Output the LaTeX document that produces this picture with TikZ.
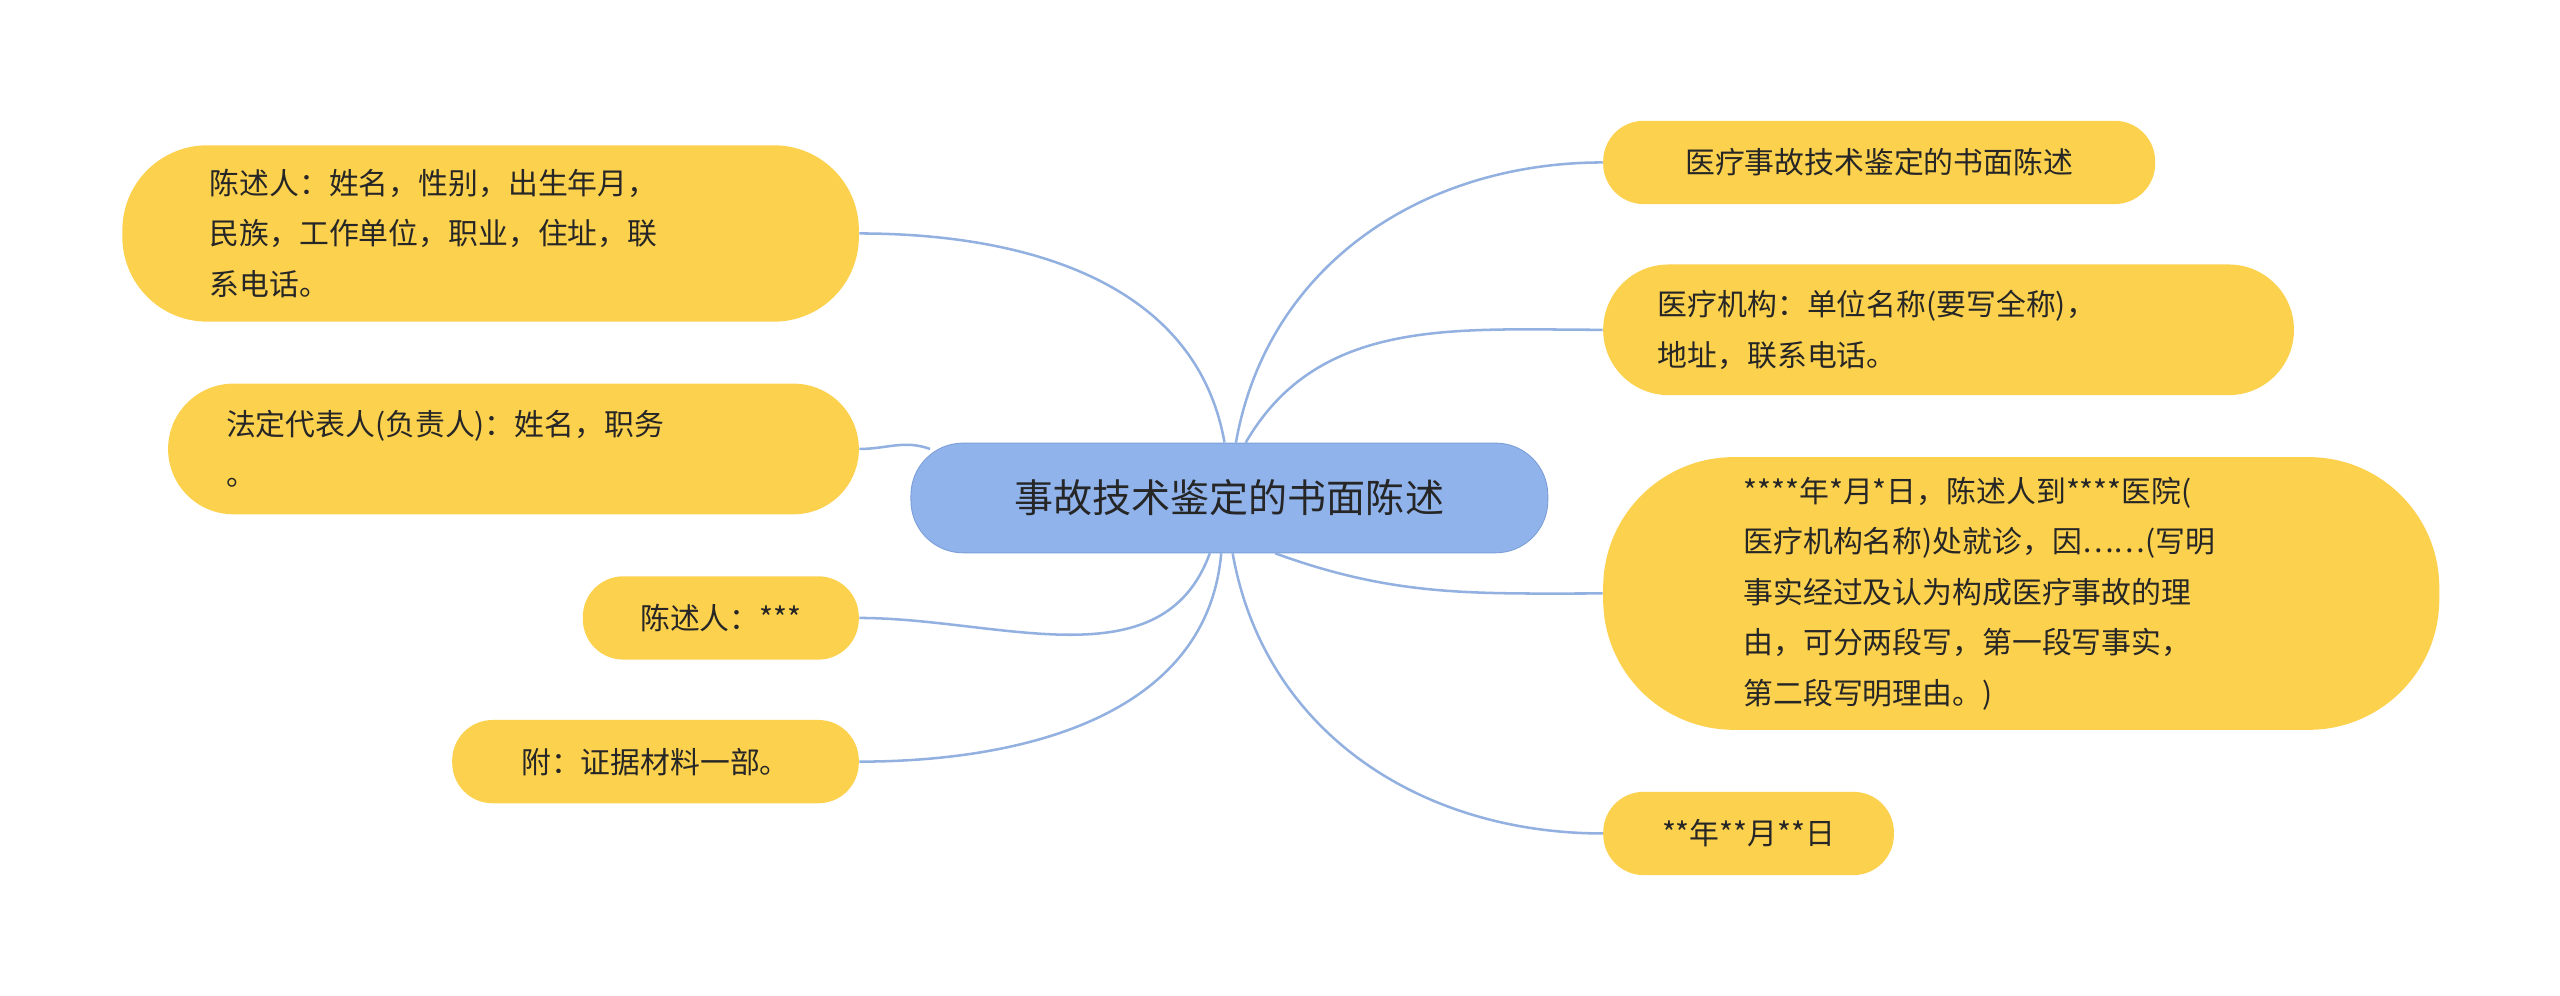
\documentclass[tikz,border=0pt]{standalone}
\usepackage{fontspec}
\setmainfont{Noto Sans CJK SC}
\usetikzlibrary{positioning}
\definecolor{leafyellow}{HTML}{FCD14E}
\definecolor{rootblue}{HTML}{90B3EB}
\definecolor{rootline}{HTML}{7D9FD8}
\definecolor{linkblue}{HTML}{92B0E0}
\tikzset{
  leaf/.style={fill=leafyellow, rounded corners=#1, inner sep=0pt, align=left,
    font=\fontsize{13}{22}\selectfont, text=black!85},
  leaf/.default=0.62cm,
  root/.style={fill=rootblue, draw=rootline, rounded corners=0.8cm, inner sep=0pt,
    font=\fontsize{17}{20}\selectfont, text=black!85},
  link/.style={draw=linkblue, line width=1.1pt}
}
\begin{document}
\begin{tikzpicture}[x=0.025cm,y=-0.025cm]
\useasboundingbox (0,0) rectangle (1568,610);
% centre
\node[root, minimum width=9.75cm, minimum height=1.68cm] (root) at (753,305) {事故技术鉴定的书面陈述};
% left side
\node[leaf=1.3cm, minimum width=11.275cm, minimum height=2.7cm, text width=8.6cm] (stater) at (300.5,143)
  {陈述人：姓名，性别，出生年月，\\民族，工作单位，职业，住址，联\\系电话。};
\node[leaf=1cm, minimum width=10.575cm, minimum height=2cm, text width=8.8cm] (legal) at (314.5,275)
  {法定代表人(负责人)：姓名，职务\\。};
\node[leaf, minimum width=4.225cm, minimum height=1.275cm] (signer) at (441.5,378.5) {陈述人：***};
\node[leaf, minimum width=6.225cm, minimum height=1.275cm] (annex) at (401.5,466.5) {附：证据材料一部。};
% right side
\node[leaf, minimum width=8.45cm, minimum height=1.275cm] (title) at (1151,99.5) {医疗事故技术鉴定的书面陈述};
\node[leaf=1cm, minimum width=10.575cm, minimum height=2cm, text width=8.9cm] (hospital) at (1193.5,202)
  {医疗机构：单位名称(要写全称)，\\地址，联系电话。};
\node[leaf=2cm, minimum width=12.8cm, minimum height=4.175cm, text width=8.5cm] (facts) at (1238,363.5)
  {****年*月*日，陈述人到****医院(\\医疗机构名称)处就诊，因……(写明\\事实经过及认为构成医疗事故的理\\由，可分两段写，第一段写事实，\\第二段写明理由。)};
\node[leaf, minimum width=4.45cm, minimum height=1.275cm] (date) at (1071,510.5) {**年**月**日};
% links
\draw[link] (750,271) to[out=100,in=0] (stater.east);
\draw[link] (root.west) ++(12,-30) to[out=160,in=0] (legal.east);
\draw[link] (root.south) ++(-12,0) to[out=250,in=0] (signer.east);
\draw[link] (root.south) ++(-5,0) to[out=265,in=0] (annex.east);
\draw[link] (root.north) ++(4,0) to[out=80,in=180] (title.west);
\draw[link] (root.north) ++(10,0) to[out=60,in=180] (hospital.west);
\draw[link] (root.south) ++(28,0) to[out=-20,in=180] (facts.west);
\draw[link] (root.south) ++(2,0) to[out=-80,in=180] (date.west);
\end{tikzpicture}
\end{document}
